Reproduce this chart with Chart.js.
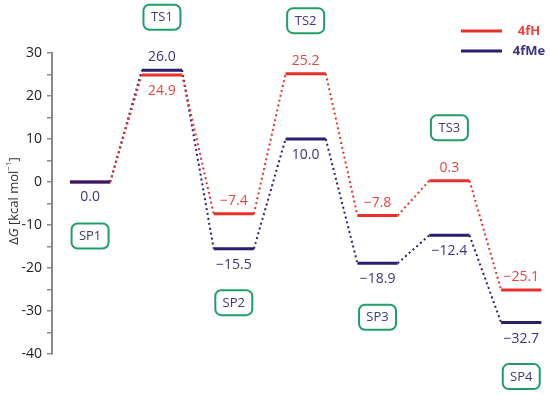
<!DOCTYPE html>
<html>
<head>
<meta charset="utf-8">
<script src="https://cdn.jsdelivr.net/npm/chart.js@4.4.0/dist/chart.umd.min.js"></script>
<style>
html,body{margin:0;padding:0;background:#fff;}
#wrap{width:550px;height:395px;}
</style>
</head>
<body>
<div id="wrap"><canvas id="c" width="550" height="395"></canvas></div>
<script>
const states = ['SP1', 'TS1', 'SP2', 'TS2', 'SP3', 'TS3', 'SP4'];
const g4fH  = [0.0, 24.9, -7.4, 25.2, -7.8, 0.3, -25.1];
const g4fMe = [0.0, 26.0, -15.5, 10.0, -18.9, -12.4, -32.7];
const seriesNames = ['4fH', '4fMe'];
const yMin = -40, yMax = 30, yStep = 5;

const RED = '#e8302a', BLUE = '#2a1e6e';
const RED_TXT = '#e8453c', BLUE_TXT = '#3b3380';
const GREEN = '#1f9e68', BOX_TXT = '#3d3a7a';
const HW = 0.28;
const FONT = '"Open Sans", "DejaVu Sans", sans-serif';

function levels(vals) {
  const d = [];
  vals.forEach((v, i) => {
    d.push({x: i - HW, y: v}, {x: i + HW, y: v});
    if (i < vals.length - 1) d.push({x: i + 0.5, y: null});
  });
  return d;
}
function connectors(vals) {
  const d = [];
  for (let i = 0; i < vals.length - 1; i++) {
    d.push({x: i + HW, y: vals[i]}, {x: i + 1 - HW, y: vals[i + 1]});
    if (i < vals.length - 2) d.push({x: i + 1, y: null});
  }
  return d;
}
const fmt = v => v.toFixed(1).replace('-', '\u2212');

const overlay = {
  id: 'overlay',
  afterDatasetsDraw(chart) {
    const ctx = chart.ctx, ys = chart.scales.y, xs = chart.scales.x;
    ctx.save();
    ctx.textAlign = 'center';
    ctx.textBaseline = 'middle';
    ctx.font = '14px ' + FONT;
    states.forEach((s, i) => {
      const a = g4fH[i], b = g4fMe[i];
      const px = xs.getPixelForValue(i);
      if (a === b) {
        ctx.fillStyle = BLUE_TXT;
        ctx.fillText(fmt(b), px, ys.getPixelForValue(b) + 15);
      } else {
        const hi = a > b ? {v: a, c: RED_TXT} : {v: b, c: BLUE_TXT};
        const lo = a > b ? {v: b, c: BLUE_TXT} : {v: a, c: RED_TXT};
        ctx.fillStyle = hi.c;
        ctx.fillText(fmt(hi.v), px, ys.getPixelForValue(hi.v) - 13);
        ctx.fillStyle = lo.c;
        ctx.fillText(fmt(lo.v), px, ys.getPixelForValue(lo.v) + 16);
      }
      // state box
      const isTS = s.startsWith('TS');
      const cy = isTS ? ys.getPixelForValue(Math.max(a, b)) - 53
                      : ys.getPixelForValue(Math.min(a, b)) + 54;
      const w = 37, h = 25;
      ctx.beginPath();
      ctx.roundRect(px - w / 2, cy - h / 2, w, h, 6);
      ctx.lineWidth = 2;
      ctx.strokeStyle = GREEN;
      ctx.stroke();
      ctx.fillStyle = BOX_TXT;
      ctx.font = '13px ' + FONT;
      ctx.fillText(s, px, cy + 0.5);
      ctx.font = '14px ' + FONT;
    });
    // legend
    const lg = [{name: seriesNames[0], c: RED, t: RED_TXT, y: 31},
                {name: seriesNames[1], c: BLUE, t: BLUE_TXT, y: 51}];
    lg.forEach(l => {
      ctx.beginPath();
      ctx.moveTo(461, l.y); ctx.lineTo(502, l.y);
      ctx.lineWidth = 3; ctx.strokeStyle = l.c; ctx.stroke();
      ctx.font = 'bold 13px ' + FONT;
      ctx.fillStyle = l.t;
      ctx.textAlign = 'center';
      ctx.fillText(l.name, 529, l.y);
    });
    // y-axis title
    ctx.save();
    ctx.translate(14, 201);
    ctx.rotate(-Math.PI / 2);
    ctx.fillStyle = '#333';
    ctx.textBaseline = 'middle';
    const parts = [
      {t: '\u0394', f: '13px ' + FONT, dy: 0},
      {t: 'G', f: 'italic 13px ' + FONT, dy: 0},
      {t: ' [kcal mol', f: '13px ' + FONT, dy: 0},
      {t: '\u22121', f: '8px ' + FONT, dy: -5},
      {t: ']', f: '13px ' + FONT, dy: 0}
    ];
    let tot = 0;
    parts.forEach(p => { ctx.font = p.f; tot += ctx.measureText(p.t).width; });
    let x = -tot / 2;
    ctx.textAlign = 'left';
    parts.forEach(p => {
      ctx.font = p.f;
      ctx.fillText(p.t, x, p.dy);
      x += ctx.measureText(p.t).width;
    });
    ctx.restore();
    ctx.restore();
  }
};

new Chart(document.getElementById('c'), {
  type: 'line',
  data: {
    datasets: [
      {label: seriesNames[1] + ' level', data: levels(g4fMe), borderColor: BLUE, borderWidth: 3, order: 0},
      {label: seriesNames[0] + ' level', data: levels(g4fH), borderColor: RED, borderWidth: 3, order: 1},
      {label: seriesNames[0] + ' path', data: connectors(g4fH), borderColor: RED, borderWidth: 2, borderDash: [2, 3], order: 2},
      {label: seriesNames[1] + ' path', data: connectors(g4fMe), borderColor: BLUE, borderWidth: 2, borderDash: [2, 3], order: 3}
    ]
  },
  options: {
    responsive: false,
    animation: false,
    spanGaps: false,
    layout: {padding: {top: 53, bottom: 41, left: 0, right: 0}},
    elements: {point: {radius: 0}, line: {tension: 0, fill: false}},
    plugins: {legend: {display: false}, tooltip: {enabled: false}},
    scales: {
      x: {type: 'linear', display: false, min: -0.53, max: 6.4},
      y: {
        min: yMin, max: yMax,
        afterFit: s => { s.width = 52; },
        border: {display: true, color: '#8a8a8a', width: 2},
        grid: {drawOnChartArea: false, drawTicks: true, tickLength: 5, color: '#8a8a8a', lineWidth: 1.5},
        ticks: {
          stepSize: yStep, padding: 5, color: '#222',
          font: {family: FONT, size: 14},
          callback: v => (v % 10 === 0 ? String(v) : '')
        }
      }
    }
  },
  plugins: [overlay]
});
</script>
</body>
</html>
